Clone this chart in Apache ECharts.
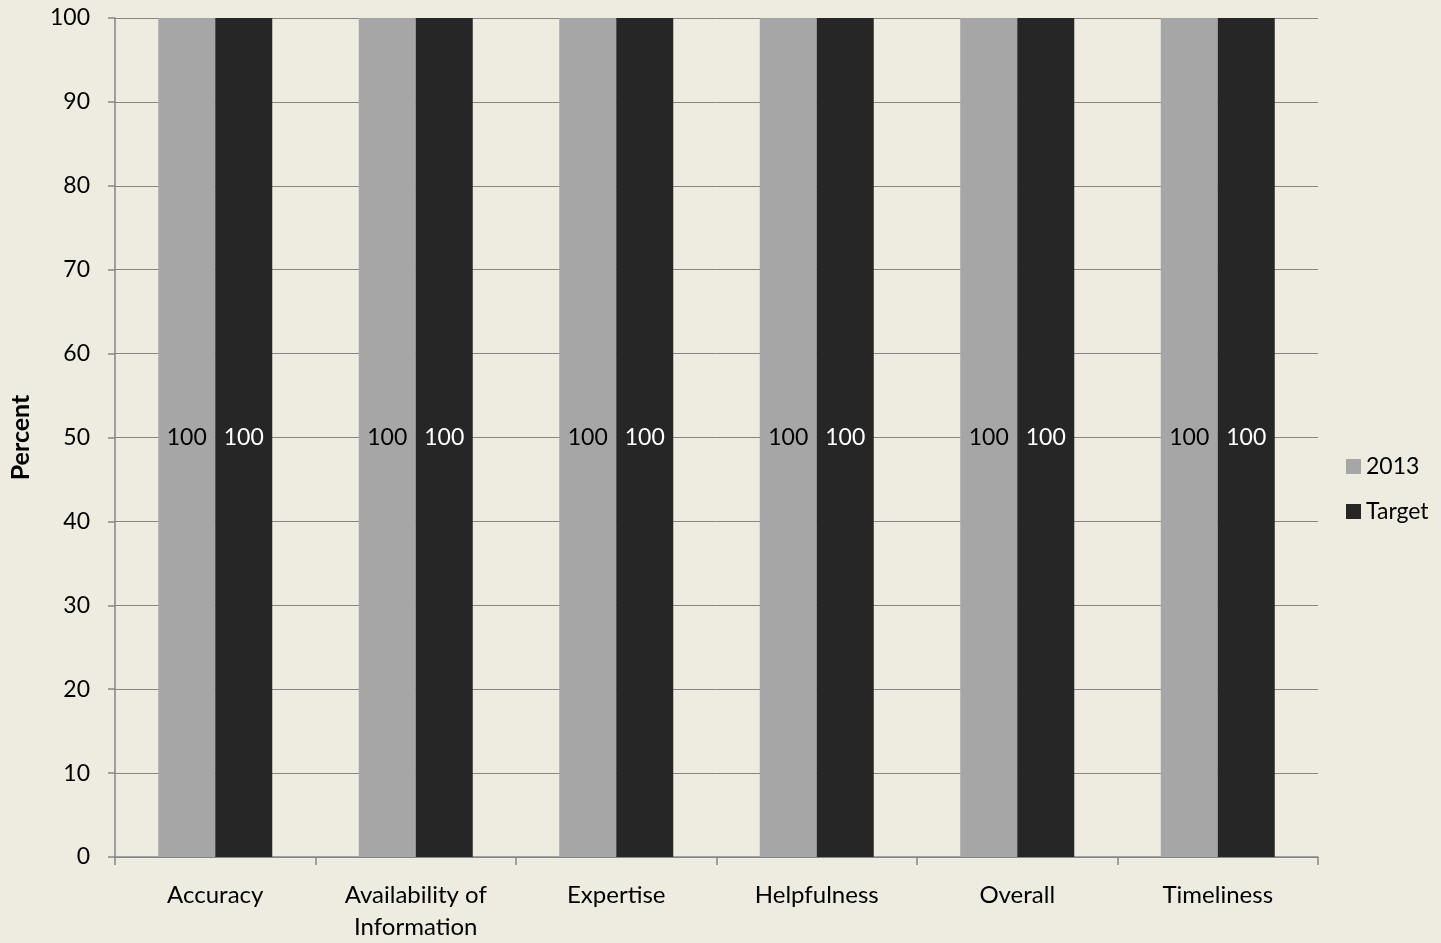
<!DOCTYPE html>
<html><head><meta charset="utf-8">
<script src="https://cdn.jsdelivr.net/npm/echarts@6/dist/echarts.min.js"></script>
<style>html,body{margin:0;padding:0;background:#EEECE1;overflow:hidden;}#c{width:1441px;height:943px;}</style>
</head><body><div id="c"></div>
<script>
const categories = ['Accuracy', 'Availability of\nInformation', 'Expertise', 'Helpfulness', 'Overall', 'Timeliness'];
const series2013 = [100, 100, 100, 100, 100, 100];
const seriesTarget = [100, 100, 100, 100, 100, 100];
const yTicks = {min: 0, max: 100, interval: 10};

const FONT = 'Lato';
const chart = echarts.init(document.getElementById('c'));
chart.setOption({
  backgroundColor: '#EEECE1',
  animation: false,
  textStyle: {fontFamily: FONT},
  grid: {left: 115, width: 1203, top: 18, height: 845, containLabel: false},
  legend: {
    orient: 'vertical', left: 1341, top: 450, itemWidth: 15, itemHeight: 15, itemGap: 22,
    icon: 'rect',
    textStyle: {fontFamily: FONT, fontSize: 23, color: '#000'},
    data: ['2013', 'Target']
  },
  xAxis: {
    type: 'category', data: categories,
    axisLine: {lineStyle: {color: '#868686', width: 1.5}},
    axisTick: {show: true, length: 8, lineStyle: {color: '#868686', width: 1.5}},
    axisLabel: {fontFamily: FONT, fontSize: 24, color: '#000', margin: 22, lineHeight: 32, interval: 0}
  },
  yAxis: {
    type: 'value', min: yTicks.min, max: yTicks.max, interval: yTicks.interval,
    name: 'Percent', nameLocation: 'middle', nameGap: 82, nameRotate: 90,
    nameTextStyle: {fontFamily: FONT, fontSize: 25, fontWeight: 'bold', color: '#000'},
    axisLine: {show: true, lineStyle: {color: '#868686', width: 1.5}},
    axisTick: {show: true, length: 7, lineStyle: {color: '#868686', width: 1.5}},
    axisLabel: {fontFamily: FONT, fontSize: 23, color: '#000', margin: 25},
    splitLine: {lineStyle: {color: '#868686', width: 1}}
  },
  series: [
    {name: '2013', type: 'bar', data: series2013, barWidth: 57, barGap: '0%',
     itemStyle: {color: '#A6A6A6'},
     label: {show: true, position: 'inside', fontFamily: FONT, fontSize: 23, color: '#000'}},
    {name: 'Target', type: 'bar', data: seriesTarget, barWidth: 57, barGap: '0%',
     itemStyle: {color: '#262626'},
     label: {show: true, position: 'inside', fontFamily: FONT, fontSize: 23, color: '#fff'}}
  ]
});
</script></body></html>
